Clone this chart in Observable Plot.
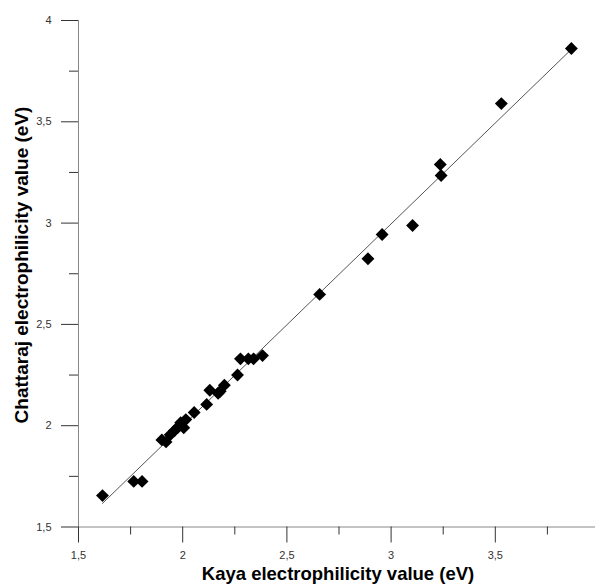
<!DOCTYPE html>
<html>
<head>
<meta charset="utf-8">
<script src="https://cdn.jsdelivr.net/npm/d3@7"></script>
<script src="https://cdn.jsdelivr.net/npm/@observablehq/plot@0.6"></script>
<style>
  html, body { margin: 0; padding: 0; background: #fff; }
  #chart { width: 595px; height: 584px; overflow: hidden; }
</style>
</head>
<body>
<div id="chart"></div>
<script>
const kaya = [1.615, 1.765, 1.805, 1.900, 1.920, 1.940, 1.960, 1.975, 1.990, 2.005, 2.015, 2.055, 2.115, 2.130, 2.170, 2.180, 2.200, 2.263, 2.277, 2.315, 2.340, 2.383, 2.657, 2.889, 2.957, 3.103, 3.236, 3.240, 3.529, 3.865];
const chattaraj = [1.655, 1.725, 1.725, 1.930, 1.920, 1.955, 1.975, 1.990, 2.015, 1.990, 2.030, 2.065, 2.105, 2.175, 2.160, 2.170, 2.200, 2.250, 2.330, 2.330, 2.330, 2.346, 2.648, 2.824, 2.944, 2.988, 3.289, 3.235, 3.590, 3.862];

const xTicks = [1.5, 2, 2.5, 3, 3.5];
const xTickLabels = ["1,5", "2", "2,5", "3", "3,5"];
const yTicks = [1.5, 2, 2.5, 3, 3.5, 4];
const yTickLabels = ["1,5", "2", "2,5", "3", "3,5", "4"];
const minorTicks = [1.75, 2.25, 2.75, 3.25, 3.75];

const xTitle = "Kaya electrophilicity value (eV)";
const yTitle = "Chattaraj electrophilicity value (eV)";

const data = kaya.map((k, i) => ({ kaya: k, chattaraj: chattaraj[i] }));

const svg = Plot.plot({
  width: 595,
  height: 584,
  marginLeft: 78,
  marginTop: 20,
  marginBottom: 57.5,
  marginRight: -4,
  style: { fontFamily: "'Liberation Sans', Arial, sans-serif", background: "#fff", overflow: "visible" },
  x: { domain: [1.5, 4] },
  y: { domain: [1.5, 4] },
  marks: [
    Plot.ruleY([1.5], { stroke: "#888", strokeWidth: 1 }),
    Plot.ruleX([1.5], { stroke: "#888", strokeWidth: 1 }),
    Plot.axisX(xTicks, { tickSize: 16, tickPadding: 8, tickFormat: d => xTickLabels[xTicks.indexOf(d)], fontSize: 11, color: "#333", label: null }),
    Plot.axisX(minorTicks, { tickSize: 8, tickFormat: () => "", color: "#333", label: null }),
    Plot.axisY(yTicks, { tickSize: 17, tickPadding: 10, tickFormat: d => yTickLabels[yTicks.indexOf(d)], fontSize: 11, color: "#333", label: null }),
    Plot.axisY(minorTicks, { tickSize: 9, tickFormat: () => "", color: "#333", label: null }),
    Plot.linearRegressionY(data, { x: "kaya", y: "chattaraj", ci: 0, stroke: "#555", strokeWidth: 1 }),
    Plot.dot(data, { x: "kaya", y: "chattaraj", symbol: "diamond2", r: 5.8, fill: "#000", stroke: "none" })
  ]
});

const s = d3.select(svg);
s.append("text")
  .attr("x", 338)
  .attr("y", 580)
  .attr("text-anchor", "middle")
  .attr("font-size", 18.5)
  .attr("font-weight", "bold")
  .attr("fill", "#000")
  .text(xTitle);
s.append("text")
  .attr("transform", "translate(28,265) rotate(-90)")
  .attr("text-anchor", "middle")
  .attr("font-size", 19)
  .attr("font-weight", "bold")
  .attr("fill", "#000")
  .text(yTitle);

document.getElementById("chart").appendChild(svg);
</script>
</body>
</html>
